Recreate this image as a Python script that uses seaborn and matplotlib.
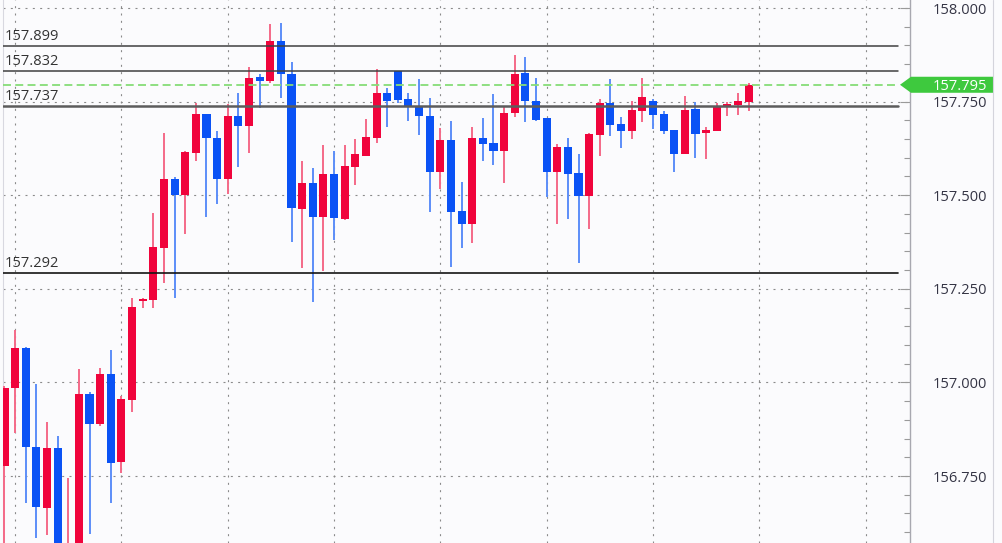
import numpy as np
import pandas as pd
import matplotlib
matplotlib.use('Agg')
import matplotlib.pyplot as plt
import matplotlib.transforms as mtransforms
from matplotlib.patches import Polygon
from matplotlib.lines import Line2D
from matplotlib.ticker import MultipleLocator, FixedLocator, FormatStrFormatter
import seaborn as sns

# ── DATA ───────────────────────────────────────────
opens = [156.777, 156.985, 157.092, 156.827, 156.665, 156.825, 156.486, 156.526, 156.969, 156.889,
         157.022, 156.787, 156.953, 157.217, 157.220, 157.359, 157.543, 157.501, 157.613, 157.717,
         157.653, 157.543, 157.712, 157.685, 157.816, 157.805, 157.912, 157.824, 157.463, 157.533,
         157.442, 157.557, 157.436, 157.575, 157.605, 157.653, 157.773, 157.832, 157.757, 157.736,
         157.712, 157.562, 157.647, 157.458, 157.423, 157.653, 157.639, 157.618, 157.720, 157.826,
         157.752, 157.706, 157.562, 157.629, 157.559, 157.498, 157.661, 157.746, 157.690, 157.672,
         157.725, 157.752, 157.717, 157.674, 157.610, 157.730, 157.666, 157.672, 157.738, 157.741,
         157.749]
highs = [156.990, 157.140, 157.095, 156.996, 156.894, 156.857, 156.745, 157.036, 156.974, 157.038,
         157.087, 156.964, 157.225, 157.225, 157.453, 157.666, 157.549, 157.618, 157.746, 157.717,
         157.672, 157.744, 157.773, 157.842, 157.824, 157.957, 157.960, 157.856, 157.591, 157.573,
         157.634, 157.618, 157.634, 157.650, 157.704, 157.837, 157.786, 157.832, 157.773, 157.810,
         157.760, 157.680, 157.698, 157.535, 157.682, 157.706, 157.770, 157.738, 157.874, 157.869,
         157.813, 157.706, 157.637, 157.653, 157.610, 157.666, 157.757, 157.810, 157.709, 157.752,
         157.813, 157.757, 157.725, 157.674, 157.765, 157.749, 157.682, 157.746, 157.749, 157.773,
         157.800]
lows = [156.526, 156.865, 156.678, 156.584, 156.592, 156.445, 156.419, 156.499, 156.595, 156.884,
        156.678, 156.758, 156.921, 157.199, 157.199, 157.266, 157.225, 157.396, 157.591, 157.442,
        157.477, 157.503, 157.575, 157.613, 157.733, 157.800, 157.760, 157.375, 157.306, 157.215,
        157.298, 157.380, 157.434, 157.527, 157.605, 157.640, 157.682, 157.746, 157.698, 157.661,
        157.455, 157.517, 157.308, 157.359, 157.372, 157.591, 157.581, 157.533, 157.709, 157.696,
        157.698, 157.495, 157.423, 157.436, 157.319, 157.410, 157.605, 157.658, 157.626, 157.650,
        157.696, 157.677, 157.664, 157.562, 157.610, 157.599, 157.597, 157.672, 157.712, 157.714,
        157.725]
closes = [156.985, 157.092, 156.827, 156.667, 156.825, 156.486, 156.526, 156.969, 156.889, 157.022,
          156.785, 156.956, 157.201, 157.223, 157.362, 157.543, 157.501, 157.615, 157.717, 157.653,
          157.543, 157.712, 157.685, 157.813, 157.805, 157.912, 157.824, 157.466, 157.533, 157.442,
          157.557, 157.439, 157.578, 157.610, 157.655, 157.773, 157.752, 157.754, 157.736, 157.712,
          157.562, 157.647, 157.455, 157.423, 157.653, 157.637, 157.618, 157.720, 157.824, 157.752,
          157.701, 157.562, 157.629, 157.557, 157.498, 157.663, 157.746, 157.688, 157.672, 157.728,
          157.762, 157.714, 157.672, 157.610, 157.728, 157.663, 157.674, 157.738, 157.744, 157.752,
          157.795]

level_prices = [157.899, 157.832, 157.737, 157.292]
last_price = 157.795
price_ticks = [156.75, 157.00, 157.25, 157.50, 157.75, 158.00]

# ── STYLE ─────────────────────────────────────────
sns.set_theme(style="white")
plt.rcParams['font.family'] = ['Open Sans', 'DejaVu Sans']

BG = '#fbfbfd'
UP, DOWN = '#f0043c', '#0a52f5'
UP_WICK, DOWN_WICK = '#f46a88', '#5c8ef8'
level_colors = ['#404040', '#404040', '#5c5c5c', '#151515']
level_widths = [1.1, 1.1, 1.8, 1.2]
GREEN = '#3ec93e'

df = pd.DataFrame({'open': opens, 'high': highs, 'low': lows, 'close': closes})
df['bar'] = np.arange(len(df))
df['up'] = df['close'] >= df['open']

W, H = 1002, 543
fig = plt.figure(figsize=(W / 100, H / 100), dpi=100, facecolor=BG)
ax = fig.add_axes([3 / W, 0, 907 / W, 1])
ax.set_facecolor(BG)

# candles: wicks then bodies
ax.vlines(df['bar'], df['low'], df['high'],
          colors=np.where(df['up'], UP_WICK, DOWN_WICK), linewidth=1.4, zorder=3)
body_bottom = df[['open', 'close']].min(axis=1)
body_height = (df['close'] - df['open']).abs().clip(lower=0.006)
ax.bar(df['bar'], body_height, bottom=body_bottom, width=0.76,
       color=np.where(df['up'], UP, DOWN), linewidth=0, zorder=4)

# limits (10.625 px per bar, first bar centred 1.5 px inside)
ax.set_xlim(-0.14, 85.18)
ax.set_ylim(156.5711, 158.0214)

# grid
ax.xaxis.set_major_locator(FixedLocator(np.arange(1, 90, 10)))
ax.yaxis.set_major_locator(FixedLocator(price_ticks))
ax.yaxis.set_minor_locator(MultipleLocator(0.05))
ax.yaxis.set_major_formatter(FormatStrFormatter('%.3f'))
ax.grid(True, which='major', linestyle=(0, (1.8, 4.8)), color='#8a8a8a', linewidth=0.8)
ax.set_axisbelow(True)
ax.tick_params(axis='x', length=0, labelbottom=False)
ax.yaxis.tick_right()
ax.tick_params(axis='y', which='major', direction='in', length=7.5, width=0.8,
               color='#9a9a9a', pad=16.5, labelsize=10.5, labelcolor='#353545')
ax.tick_params(axis='y', which='minor', direction='in', length=4, width=0.8, color='#9a9a9a')

for side in ['top', 'bottom']:
    ax.spines[side].set_visible(False)
ax.spines['right'].set_color('#a8a8b0')
ax.spines['right'].set_linewidth(1.0)
ax.spines['left'].set_color('#d8d8e0')
ax.spines['left'].set_linewidth(0.8)

# support / resistance levels with their labels
line_end = 895 / 907
for price, c, lw in zip(level_prices, level_colors, level_widths):
    ax.axhline(price, xmin=0, xmax=line_end, color=c, linewidth=lw, zorder=5)
    ax.annotate(f'{price:.3f}', xy=(0.002, price), xycoords=('axes fraction', 'data'),
                xytext=(0, 4.5), textcoords='offset points', va='baseline', ha='left',
                fontsize=10.5, color='#333333', zorder=6)

# current price line and tag
ax.axhline(last_price, xmin=0, xmax=line_end, color='#86dd78', linewidth=1.3,
           linestyle=(0, (4.4, 2.4)), zorder=5)
trans = mtransforms.blended_transform_factory(ax.transAxes, ax.transData)
half = 0.0214
tag = Polygon([(897 / 907, last_price), (908 / 907, last_price + half),
               (990 / 907, last_price + half), (990 / 907, last_price - half),
               (908 / 907, last_price - half)],
              closed=True, transform=trans, facecolor=GREEN, edgecolor='none',
              clip_on=False, zorder=7)
ax.add_patch(tag)
ax.text(930 / 907, last_price, f'{last_price:.3f}', transform=trans, ha='left',
        va='center_baseline', fontsize=10.5, color='white', zorder=8, clip_on=False)

# outer border of the price scale
fig.add_artist(Line2D([993 / W, 993 / W], [0, 1], transform=fig.transFigure,
                      color='#d4d4dc', linewidth=0.8))

plt.savefig('out.png', dpi=100, facecolor=BG)
plt.close()
